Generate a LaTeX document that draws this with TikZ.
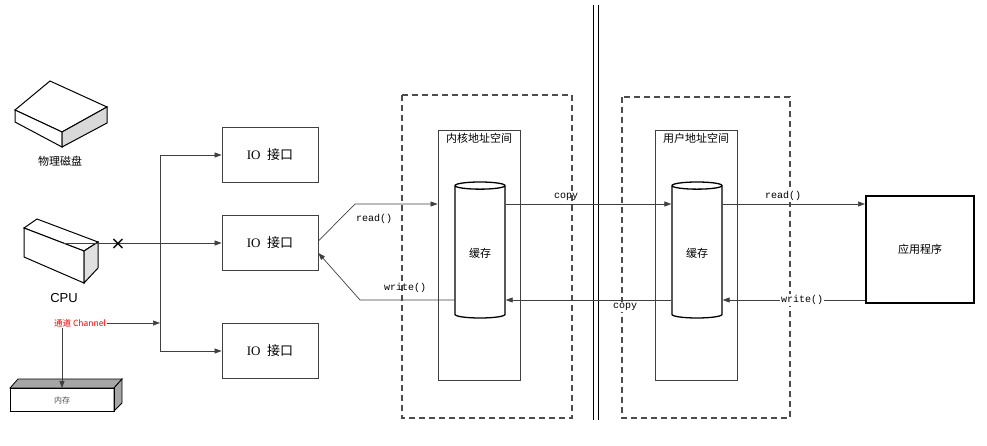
\documentclass[tikz,border=0pt]{standalone}
\usepackage{fontspec}
\setmainfont{Liberation Serif}
\newfontfamily\cjk{Noto Sans CJK SC}
\newfontfamily\mono{Liberation Mono}
\usetikzlibrary{shapes.geometric,arrows.meta}
\begin{document}
\begin{tikzpicture}[x=1pt,y=-1pt,
  box/.style={draw=black!75,line width=0.8pt,rectangle},
  iobox/.style={box,minimum width=96pt,minimum height=55pt,font=\fontsize{13}{15}\selectfont},
  arr/.style={draw=black!75,line width=0.7pt,-{Triangle[length=7pt,width=5pt]}},
  ln/.style={draw=black!75,line width=0.7pt},
  dbox/.style={draw=black!70,line width=1.4pt,dash pattern=on 6pt off 4pt},
  cyl/.style={draw=black,line width=1.3pt,fill=white,cylinder,shape border rotate=90,aspect=0.25,minimum width=50pt,minimum height=136pt},
  lbl/.style={font=\mono\fontsize{10}{12}\selectfont,inner sep=1pt}]
\useasboundingbox (0,0) rectangle (987,445);
% disk
\draw[line width=1pt,fill=white] (15,110) -- (50,81) -- (107,107) -- (62,132) -- cycle;
\draw[line width=1pt,fill=white] (15,110) -- (15,122) -- (62,147) -- (62,132) -- cycle;
\draw[line width=1pt,fill=black!15] (62,147) -- (107,123) -- (107,107) -- (62,132) -- cycle;
\node[font=\cjk\fontsize{11}{13}\selectfont] (disk) at (60,161) {物理磁盘};
% cpu
\draw[line width=1pt,fill=white] (24,228) -- (37,219) -- (98,242) -- (84,251) -- cycle;
\draw[line width=1pt,fill=white] (24,228) -- (24,257) -- (84,283) -- (84,251) -- cycle;
\draw[line width=1pt,fill=black!12] (84,283) -- (98,268) -- (98,242) -- (84,251) -- cycle;
\coordinate (cpuc) at (63,243);
\node[font=\fontspec{Liberation Sans}\fontsize{13}{15}\selectfont] (cpu) at (64,298) {CPU};
\node[text=red,font=\cjk\fontsize{8.5}{10}\selectfont,inner sep=1pt] (chan) at (80,323) {通道 Channel};
% memory
\draw[line width=0.8pt,fill=black!35] (10,388) -- (18,379) -- (122,379) -- (114,388) -- cycle;
\draw[line width=0.8pt,fill=black!35] (114,388) -- (122,379) -- (122,403) -- (114,411) -- cycle;
\node[draw,line width=0.8pt,minimum width=104pt,minimum height=23pt,font=\cjk\fontsize{8}{10}\selectfont,text=black!70] (mem) at (62,400) {内存};
% IO boxes
\node[iobox] (io1) at (270,155) {IO\ \ {\cjk 接口}};
\node[iobox] (io2) at (270,243) {IO\ \ {\cjk 接口}};
\node[iobox] (io3) at (270,351) {IO\ \ {\cjk 接口}};
\coordinate (bt) at (160,155);
\coordinate (bm) at (160,323);
\coordinate (bb) at (160,351);
\draw[ln] (bt) -- (bb);
\draw[arr] (bt) -- (io1.west);
\draw[arr] (bb) -- (io3.west);
\draw[arr] (cpuc) -- (io2.west);
\draw[arr] (chan.east) -- (bm);
\draw[arr] (chan.south -| mem.north) -- (mem.north);
\node[font=\bfseries\fontsize{18}{18}\selectfont,inner sep=0pt] (x) at (118,244) {\textsf{×}};
% kernel
\draw[dbox] (402,95) rectangle (572,418);
\node[box,minimum width=82pt,minimum height=250pt] (kern) at (479,255) {};
\node[font=\cjk\fontsize{11}{13}\selectfont,anchor=north] (kl) at (kern.north) {内核地址空间};
\node[cyl,font=\cjk\fontsize{11}{13}\selectfont] (c1) at (480,253) {缓存};
% divider
\draw[line width=0.6pt] (593,5) -- (593,420) (598,5) -- (598,420);
% user
\draw[dbox] (622,97) rectangle (790,418);
\node[box,minimum width=82pt,minimum height=250pt] (user) at (696,255) {};
\node[font=\cjk\fontsize{11}{13}\selectfont,anchor=north] (ul) at (user.north) {用户地址空间};
\node[cyl,font=\cjk\fontsize{11}{13}\selectfont] (c2) at (697,253) {缓存};
% app
\node[draw,line width=2pt,minimum width=108pt,minimum height=107pt,font=\cjk\fontsize{11}{13}\selectfont] (app) at (920,249) {应用程序};
% arrows
\coordinate (r1) at (355,204);
\coordinate (w1) at (360,300);
\draw[arr] ([yshift=2pt]io2.east) -- (r1) -- (kern.west |- r1);
\draw[arr] (c1.west |- w1) -- (w1) -- ([yshift=-10pt]io2.east);
\node[lbl] (rl1) at (374,219) {read()};
\node[lbl] (wl1) at (405,288) {write()};
\draw[arr] (c1.east |- r1) -- (c2.west |- r1);
\node[lbl] (cp1) at (566,197) {copy};
\draw[arr] (c2.west |- w1) -- (c1.east |- w1);
\node[lbl,fill=white] (cp2) at (625,307) {copy};
\draw[arr] (c2.east |- r1) -- (app.west |- r1);
\node[lbl,fill=white] (rl2) at (783,196) {read()};
\draw[arr] (app.west |- w1) -- (c2.east |- w1);
\node[lbl,fill=white] (wl2) at (802,300) {write()};
\end{tikzpicture}
\end{document}
